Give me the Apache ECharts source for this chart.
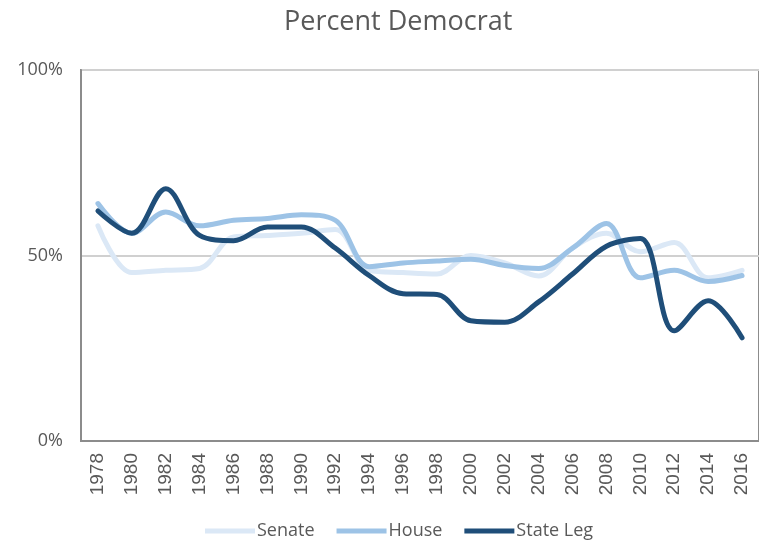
<!DOCTYPE html>
<html>
<head>
<meta charset="utf-8">
<script src="https://cdn.jsdelivr.net/npm/echarts@6/dist/echarts.min.js"></script>
<style>
  html, body { margin: 0; padding: 0; background: #fff; }
  #chart { width: 759px; height: 544px; }
</style>
</head>
<body>
<div id="chart"></div>
<script>
// Election years on the category axis
const years = ['1978','1980','1982','1984','1986','1988','1990','1992','1994','1996',
               '1998','2000','2002','2004','2006','2008','2010','2012','2014','2016'];

// Share of seats held by Democrats (percent)
const senate   = [58, 45.4, 46, 46.5, 55, 55.4, 56, 57, 46, 45.4, 45, 50, 48, 44.5, 52, 56, 51, 53.5, 44, 46];
const house    = [64, 56, 61.7, 58, 59.5, 60, 61, 59.5, 47, 48, 48.5, 49, 47.3, 46.5, 52, 58.6, 44, 46, 43, 44.6];
const stateLeg = [62, 56, 68, 55.4, 54, 57.7, 57.7, 52, 44.6, 39.7, 39.5, 32.4, 32, 37.5, 45, 52.5, 54.6, 29.7, 37.8, 27.8];

const yTicks = [0, 50, 100];

const textColor = '#595959';
const fontFamily = '"Open Sans", "Noto Sans", sans-serif';

const chart = echarts.init(document.getElementById('chart'), null, { renderer: 'canvas' });

function lineSeries(name, data, color) {
  return {
    name: name,
    type: 'line',
    data: data,
    smooth: 0.35,
    symbol: 'none',
    lineStyle: { color: color, width: 5, cap: 'round', join: 'round' },
    itemStyle: { color: color }
  };
}

chart.setOption({
  animation: false,
  backgroundColor: '#ffffff',
  title: {
    text: 'Percent Democrat',
    left: 279,
    top: 4,
    textStyle: { color: textColor, fontSize: 27, fontWeight: 'normal', fontFamily: fontFamily }
  },
  legend: {
    bottom: -1,
    left: 200,
    icon: 'rect',
    itemWidth: 50,
    itemHeight: 5,
    itemGap: 22,
    textStyle: { color: textColor, fontSize: 18, fontFamily: fontFamily, padding: [0, 0, 0, -3] },
    data: ['Senate', 'House', 'State Leg']
  },
  grid: {
    left: 81,
    right: -5,
    top: 70,
    bottom: 103,
    show: true,
    borderColor: '#8c8c8c',
    borderWidth: 2,
    containLabel: false
  },
  xAxis: {
    type: 'category',
    data: years,
    boundaryGap: true,
    axisLine: { show: true, lineStyle: { color: '#8c8c8c', width: 2 } },
    axisTick: { show: false },
    axisLabel: {
      rotate: 90,
      color: textColor,
      fontSize: 19,
      fontFamily: '"Liberation Sans", Arial, sans-serif',
      margin: 12,
      interval: 0
    },
    splitLine: { show: false }
  },
  yAxis: {
    type: 'value',
    min: yTicks[0],
    max: yTicks[yTicks.length - 1],
    interval: 50,
    axisLine: { show: true, lineStyle: { color: '#8c8c8c', width: 2 } },
    axisTick: { show: false },
    axisLabel: {
      color: textColor,
      fontSize: 18,
      fontFamily: fontFamily,
      margin: 18,
      formatter: v => v + '%'
    },
    splitLine: { show: true, lineStyle: { color: '#d0d0d0', width: 2 } }
  },
  series: [
    lineSeries('Senate', senate, '#dbe8f6'),
    lineSeries('House', house, '#9dc3e6'),
    lineSeries('State Leg', stateLeg, '#1f4e79')
  ]
});
</script>
</body>
</html>
